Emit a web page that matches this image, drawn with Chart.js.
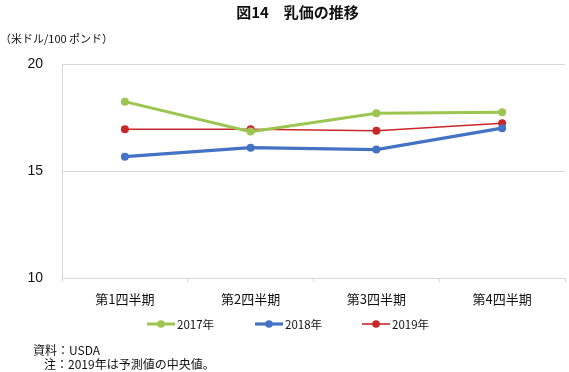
<!DOCTYPE html>
<html><head><meta charset="utf-8">
<script src="https://cdn.jsdelivr.net/npm/chart.js@4"></script>
<style>
html,body{margin:0;padding:0;background:#fff;}
#wrap{position:relative;width:569px;height:372px;overflow:hidden;font-family:"Noto Sans CJK JP","Noto Sans",sans-serif;color:#111;}
canvas{position:absolute;left:0;top:0;}
.t{position:absolute;white-space:nowrap;line-height:1;}
</style></head><body>
<div id="wrap">
<canvas id="c" width="569" height="372"></canvas>
<div class="t" id="title" style="left:0;width:595px;text-align:center;top:4px;font-size:15px;font-weight:bold;">図14　乳価の推移</div>
<div class="t" style="left:0;top:33px;font-size:11px;">（米ドル/100 ポンド）</div>
<div class="t" style="left:33px;top:344px;font-size:12px;">資料：USDA</div>
<div class="t" style="left:44px;top:358px;font-size:12px;">注：2019年は予測値の中央値。</div>
</div>
<script>
const categories = ["第1四半期","第2四半期","第3四半期","第4四半期"];
const seriesNames = ["2017年","2018年","2019年"];
const values2017 = [18.24, 16.84, 17.70, 17.74];
const values2018 = [15.67, 16.09, 16.00, 17.00];
const values2019 = [16.95, 16.95, 16.88, 17.23];
const yTicks = [10, 15, 20];

const colors = ["#9BC54F","#4472C4","#C8282A"];
const widths = [3, 3.2, 1.6];

const legendPlugin = {
  id:'customLegend',
  afterDraw(chart){
    const ctx = chart.ctx;
    const y = 324;
    const starts = [147, 255, 362];
    chart.data.datasets.forEach((ds,i)=>{
      const x0 = starts[i];
      ctx.save();
      ctx.strokeStyle = ds.borderColor; ctx.lineWidth = ds.borderWidth;
      ctx.beginPath(); ctx.moveTo(x0, y); ctx.lineTo(x0+28, y); ctx.stroke();
      ctx.fillStyle = ds.borderColor;
      ctx.beginPath(); ctx.arc(x0+14, y, 3.8, 0, Math.PI*2); ctx.fill();
      ctx.fillStyle = '#111';
      ctx.font = '11.5px "Noto Sans CJK JP", sans-serif';
      ctx.textBaseline = 'middle';
      ctx.fillText(ds.label, x0+30, y+0.5);
      ctx.restore();
    });
  }
};

new Chart(document.getElementById('c'), {
  type:'line',
  data:{
    labels:categories,
    datasets:[values2017, values2018, values2019].map((v,i)=>({
      label:seriesNames[i], data:v,
      borderColor:colors[i], backgroundColor:colors[i],
      borderWidth:widths[i], pointRadius:4, pointHoverRadius:4,
      pointBorderWidth:0, tension:0
    }))
  },
  options:{
    responsive:false, animation:false,
    layout:{padding:{left:0,right:0,top:64,bottom:0}},
    plugins:{legend:{display:false}, tooltip:{enabled:false}, title:{display:false}},
    scales:{
      x:{
        offset:true,
        grid:{offset:true, drawOnChartArea:false, drawTicks:true, tickLength:4, color:'#d9d9d9'},
        border:{display:false},
        ticks:{padding:9, color:'#111', font:{size:13, family:'"Noto Sans CJK JP", sans-serif'}},
        afterFit(s){ s.height = 94; }
      },
      y:{
        min:10, max:20,
        afterBuildTicks(s){ s.ticks = yTicks.map(v=>({value:v})); },
        grid:{color:'#d9d9d9', drawTicks:false, lineWidth:1},
        border:{display:true, color:'#d9d9d9'},
        ticks:{padding:19, color:'#111', font:{size:14, family:'"Liberation Sans", Arial, sans-serif'}},
        afterFit(s){ s.width = 62; }
      }
    }
  },
  plugins:[legendPlugin]
});
</script>
</body></html>
